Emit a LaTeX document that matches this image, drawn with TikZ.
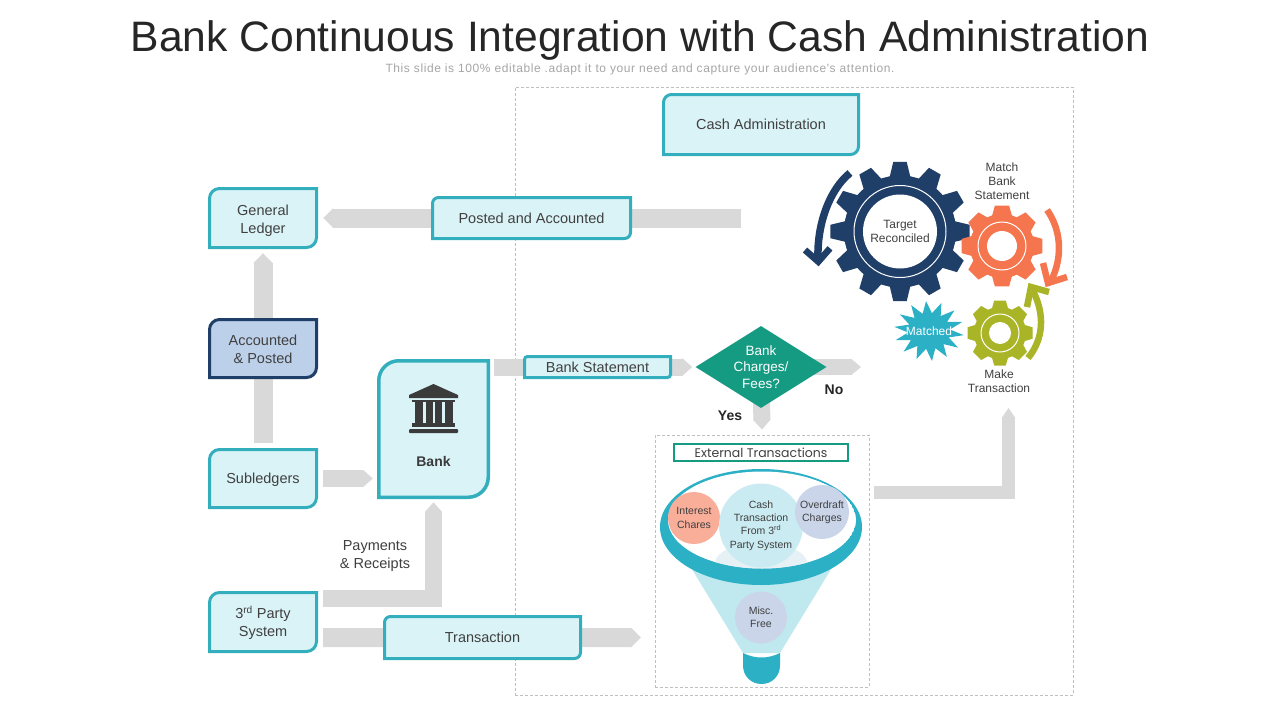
\documentclass[tikz,border=0pt]{standalone}
\usepackage{fontspec}
\setmainfont{Liberation Sans}
\newfontfamily\roundfont{Poppins}
\newfontfamily\spacedfont[LetterSpace=5]{Liberation Sans}
\usetikzlibrary{arrows.meta,shapes.geometric,calc}
\definecolor{boxfill}{HTML}{DAF3F7}
\definecolor{boxline}{HTML}{33AEBD}
\definecolor{navy}{HTML}{1F3F68}
\definecolor{navyfill}{HTML}{BDD0EA}
\definecolor{flowgray}{HTML}{D9D9D9}
\definecolor{dashgray}{HTML}{BFBFBF}
\definecolor{txt}{HTML}{404040}
\definecolor{gearorange}{HTML}{F4754E}
\definecolor{gearolive}{HTML}{A9B526}
\definecolor{rim}{HTML}{2BB0C6}
\definecolor{teal}{HTML}{169B83}
\definecolor{cone}{HTML}{BFE8EF}
\definecolor{peach}{HTML}{F9AE9A}
\definecolor{lilac}{HTML}{CAD5EA}
\definecolor{pale}{HTML}{E6F1F5}
\definecolor{iconc}{HTML}{3B3B3B}
\pgfdeclarelayer{bg}
\pgfsetlayers{bg,main}
\tikzset{
  boxtext/.style={inner sep=0pt,align=center,text=txt,font=\fontsize{14.5}{18}\selectfont},
  small/.style={inner sep=0pt,align=center,text=txt,font=\fontsize{12}{14}\selectfont},
  flow/.style={draw=flowgray,line width=#1,-{Triangle[length=10pt,width=0pt 1]}},
  dashbox/.style={draw=dashgray,line width=.8pt,dash pattern=on 3pt off 2pt,inner sep=0pt},
  ball/.style={circle,inner sep=0pt,align=center,text=txt,font=\fontsize{10.5}{13.3}\selectfont},
  bentshaft/.style={line width=6.5pt,draw=#1,line join=miter},
}
% corner box: name, x0, y0, x1, y1, radius, fill, stroke, stroke width, text
\newcommand{\corbox}[9]{%
  \pgfmathsetmacro\xa{#2+#9/2}\pgfmathsetmacro\ya{#3+#9/2}%
  \pgfmathsetmacro\xb{#4-#9/2}\pgfmathsetmacro\yb{#5-#9/2}%
  \pgfmathsetmacro\kk{0.45*#6}%
  \path[fill=#7,draw=#8,line width=#9pt,line join=miter]
    (\xa,\yb) -- (\xa,\ya+#6)
    .. controls (\xa,\ya+\kk) and (\xa+\kk,\ya) .. (\xa+#6,\ya)
    -- (\xb,\ya) -- (\xb,\yb-#6)
    .. controls (\xb,\yb-\kk) and (\xb-\kk,\yb) .. (\xb-#6,\yb)
    -- cycle;
  \coordinate (cbc) at ({(#2+#4)/2},{(#3+#5)/2});
  \pgfmathsetmacro\bw{#4-#2}\pgfmathsetmacro\bh{#5-#3}%
  \node[boxtext,minimum width=\bw pt,minimum height=\bh pt] (#1) at (cbc)
}
% gear: cx, cy, n, rout, rroot, top half angle, base half angle, colour, ring radius
\newcommand{\gearbody}[9]{%
  \begin{scope}[shift={(#1,#2)}]
    \pgfmathsetmacro\pitch{360/#3}%
    \fill[#8] circle[radius=#5];
    \fill[#8,line join=round] (-#7:#5) \foreach \k in {1,...,#3}{
       -- ({\pitch*(\k-1)-#6}:#4) -- ({\pitch*(\k-1)+#6}:#4) -- ({\pitch*(\k-1)+#7}:#5) -- ({\pitch*\k-#7}:#5)
    } -- cycle;
    \draw[white,line width=1pt] circle[radius=#9];
  \end{scope}%
}
\begin{document}
\begin{tikzpicture}[x=1pt,y=-1pt]
\useasboundingbox (0,0) rectangle (1280,720);
\begin{pgfonlayer}{bg}
  \fill[white] (0,0) rectangle (1280,720);
  \node[dashbox,minimum width=558pt,minimum height=608pt] (cashframe) at (794,391) {};
  \node[dashbox,minimum width=214pt,minimum height=252pt] (extbox) at (762,561) {};
\end{pgfonlayer}

% title
\node[inner sep=0pt,text=black!85,font=\fontsize{42.6}{50}\selectfont] (title) at (640,40) {Bank Continuous Integration with Cash Administration};
\node[inner sep=0pt,text=black!35,font=\spacedfont\fontsize{12}{14}\selectfont] (subtitle) at (640,69.5) {This slide is 100\% editable .adapt it to your need and capture your audience's attention.};

% boxes
\corbox{gl}{208}{187}{318}{249}{10}{boxfill}{boxline}{3} {\rule{0pt}{15.5pt}General\\Ledger};
\corbox{acc}{208}{318}{318}{379}{10}{navyfill}{navy}{3} {\rule{0pt}{12.5pt}Accounted\\\& Posted};
\corbox{sub}{208}{448}{318}{509}{10}{boxfill}{boxline}{3} {\rule{0pt}{13pt}Subledgers};
\corbox{third}{208}{591}{318}{653}{10}{boxfill}{boxline}{3} {\rule{0pt}{13.5pt}3\textsuperscript{rd} Party\\System};
\corbox{bank}{377}{359}{490}{499}{20}{boxfill}{boxline}{3.5} {};
\corbox{posted}{431}{196}{632}{240}{6}{boxfill}{boxline}{3} {Posted and Accounted};
\corbox{cash}{662}{93}{860}{156}{8}{boxfill}{boxline}{3} {Cash Administration};
\corbox{stmt}{523}{355}{672}{379}{3}{boxfill}{boxline}{3} {Bank Statement};
\corbox{trans}{383}{615}{582}{660}{6}{boxfill}{boxline}{3} {Transaction};
\node[draw=teal,line width=2.5pt,fill=white,inner sep=0pt,minimum width=174pt,minimum height=17pt,text=txt,font=\roundfont\fontsize{12.5}{14}\selectfont] (exttitle) at (761,452.5) {External Transactions};

% bank icon and label
\fill[iconc] (433.5,384) -- (458,395) -- (458,398) -- (409,398) -- (409,395) -- cycle;
\fill[iconc] (412,399.5) rectangle (455,402);
\fill[iconc] (415,402) rectangle (423,423);
\fill[iconc] (425.5,402) rectangle (432.5,423);
\fill[iconc] (435,402) rectangle (442,423);
\fill[iconc] (444.5,402) rectangle (452.5,423);
\fill[iconc] (412,423) rectangle (455,427);
\fill[iconc,rounded corners=1pt] (409,429) rectangle (458,433);
\node[inner sep=0pt,text=iconc,font=\bfseries\fontsize{14}{16}\selectfont] (banklabel) at (433.5,461) {Bank};

% decision
\node[diamond,fill=teal,inner sep=0pt,aspect=1.585,minimum width=131pt,minimum height=82pt] (dia) at (761,367) {};
\node[inner sep=0pt,align=center,text=white,font=\fontsize{13.5}{16.5}\selectfont] (diatext) at (761,367) {Bank\\Charges/\\Fees?};
\node[inner sep=0pt,text=black!85,font=\bfseries\fontsize{14}{16}\selectfont] (yes) at (730,416) {Yes};
\node[inner sep=0pt,text=black!85,font=\bfseries\fontsize{14}{16}\selectfont] (no) at (834,390) {No};
\node[boxtext] (payments) at (375,556) {Payments\\\& Receipts};

% gears
\gearbody{900}{231.5}{12}{70}{56}{5.5}{10.5}{navy}{46}
\node[circle,fill=white,minimum size=74pt,inner sep=0pt,small] (target) at (900,231.5) {Target\\Reconciled};
\gearbody{1002}{246}{8}{41}{32}{10}{18}{gearorange}{24}
\node[circle,fill=white,minimum size=30pt,inner sep=0pt] (orangehub) at (1002,246) {};
\gearbody{1000}{333}{8}{33}{26}{10}{18}{gearolive}{19}
\node[circle,fill=white,minimum size=22pt,inner sep=0pt] (olivehub) at (1000,333) {};
\node[small] (matchlabel) at (1002,181) {Match\\Bank\\Statement};
\node[small] (makelabel) at (999,381) {Make\\Transaction};

% star
\begin{scope}[shift={(929,331)}]
  \fill[rim] (8:35 and 30) \foreach \k in {0,...,13}{
     -- ({8+\k*25.714}:35 and 30) -- ({8+12.857+\k*25.714}:21 and 18)
  } -- cycle;
\end{scope}
\node[inner sep=0pt,text=white,font=\fontsize{12}{14}\selectfont] (matched) at (929,331.5) {Matched};

% curved arrows
\draw[bentshaft=navy,line width=7.5pt] (850,173) .. controls (829,190) and (817,225) .. (818,258);
\draw[bentshaft=navy] (805,250) -- (818.3,261.7) -- (830,248.3);
\draw[bentshaft=gearorange] (1047,210) .. controls (1060,228) and (1064,255) .. (1051,281);
\draw[bentshaft=gearorange] (1043,263) -- (1048,283) -- (1067,277);
\draw[bentshaft=gearolive] (1028,358) .. controls (1043,340) and (1046,315) .. (1032,289);
\draw[bentshaft=gearolive] (1027,307) -- (1031,287) -- (1049,292);

% funnel
\fill[cone] (690,566) -- (833,566) -- (780,653) -- (743,653) -- cycle;
\path[fill=rim] (743,653) .. controls (755,659) and (768,659) .. (780,653) -- (780,665.5)
   .. controls (780,676) and (772,684) .. (761.5,684)
   .. controls (751,684) and (743,676) .. (743,665.5) -- cycle;
\fill[rim] (761,527) ellipse[x radius=101,y radius=58];
\begin{scope}
  \clip (762,520) ellipse[x radius=94,y radius=48.5];
  \fill[white] (762,520) ellipse[x radius=94,y radius=48.5];
  \fill[pale] (761,563) ellipse[x radius=46,y radius=20];
\end{scope}
\node[ball,fill=peach,minimum size=52pt] (interest) at (694,518) {Interest\\Chares};
\node[ball,fill=cone!85!white,minimum size=84pt] (cashtx) at (761,525.5) {Cash\\Transaction\\From 3\textsuperscript{rd}\\Party System};
\node[ball,fill=lilac,minimum size=54pt] (overdraft) at (822,512) {Overdraft\\Charges};
\node[ball,fill=lilac,minimum size=52pt] (misc) at (761,617.5) {Misc.\\Free};

% free ends of connectors
\coordinate (postedsrc) at (741,218);
\coordinate (noend) at (861,367);
\coordinate (transend) at (641,637.5);
\coordinate (makeend) at (1008.5,408);

\begin{pgfonlayer}{bg}
  \draw[flow=19pt] (postedsrc) -- ([xshift=5pt]gl.east);
  \draw[flow=19pt] ([yshift=5pt]sub.north) -- ([yshift=-4pt]gl.south);
  \draw[flow=17pt] ([xshift=5pt]sub.east) -- ([xshift=-4pt]sub.east -| bank.west);
  \draw[flow=17pt] ([xshift=5pt,yshift=-7.5pt]third.north east) -| ([yshift=-3pt]bank.south);
  \draw[flow=19pt] ([xshift=5pt,yshift=15.5pt]third.south east) -- (transend);
  \draw[flow=17pt] ([xshift=4pt]bank.east |- dia.west) -- ([xshift=-3pt]dia.west);
  \draw[flow=16pt] (dia.center) -- (noend);
  \draw[flow=17pt] (dia.center) -- ([yshift=5pt]extbox.north);
  \draw[flow=13pt] ([xshift=5pt,yshift=-57.5pt]extbox.north east) -| (makeend);
\end{pgfonlayer}
\end{tikzpicture}
\end{document}
